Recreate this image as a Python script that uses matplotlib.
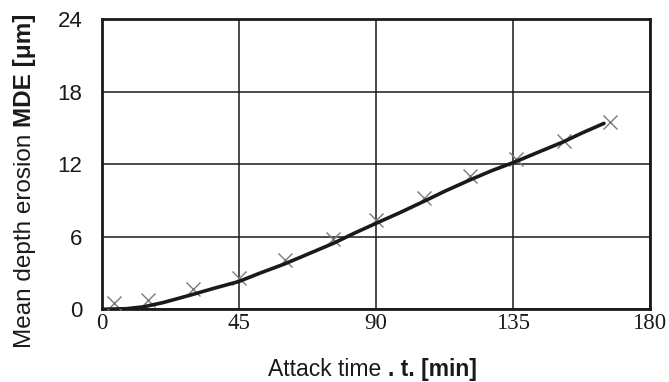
import matplotlib
matplotlib.use("Agg")
import matplotlib.pyplot as plt

# Measured erosion points
t_points = [4, 15, 30, 45, 60, 76, 90, 106, 121, 136, 152, 167]
mde_points = [0.5, 0.8, 1.7, 2.6, 4.1, 5.8, 7.4, 9.2, 11.0, 12.4, 13.9, 15.45]

# Fitted erosion curve
t_curve = [0, 8, 13.5, 20, 29.4, 37, 45, 52, 60, 68, 76, 83, 90, 98, 105.6, 113, 121, 128, 135.9, 144, 151.7, 158, 165]
mde_curve = [0.0, 0.05, 0.2, 0.55, 1.2, 1.75, 2.3, 3.0, 3.75, 4.6, 5.45, 6.3, 7.1, 8.0, 8.9, 9.8, 10.7, 11.45, 12.2, 13.05, 13.85, 14.6, 15.37]

x_ticks = [0, 45, 90, 135, 180]
y_ticks = [0, 6, 12, 18, 24]

ink = "#1a1a1a"

fig = plt.figure(figsize=(6.69, 3.82), dpi=100)
ax = fig.add_axes([0.1525, 0.1903, 0.971 - 0.1525, 0.9503 - 0.1903])

ax.set_xlim(0, 180)
ax.set_ylim(0, 24)
ax.set_xticks(x_ticks)
ax.set_yticks(y_ticks)
ax.grid(True, color=ink, linewidth=1.1)
ax.set_axisbelow(True)
for s in ax.spines.values():
    s.set_linewidth(2.0)
    s.set_color(ink)

ax.tick_params(axis="both", length=0)
ax.tick_params(axis="x", pad=2.5)
ax.tick_params(axis="y", pad=14)
for lab in ax.get_xticklabels():
    lab.set_fontfamily("Liberation Serif")
    lab.set_fontsize(16.5)
    lab.set_color(ink)
for lab in ax.get_yticklabels():
    lab.set_fontfamily("Liberation Sans")
    lab.set_fontsize(16)
    lab.set_color(ink)

ax.plot(t_points, mde_points, linestyle="none", marker="x", markersize=10,
        markeredgewidth=1.0, color="#7a7a7a", zorder=3, clip_on=False)
ax.plot(t_curve, mde_curve, color=ink, linewidth=2.6, zorder=4,
        solid_capstyle="round")

fig.canvas.draw()
renderer = fig.canvas.get_renderer()
W, H = fig.bbox.width, fig.bbox.height

# x-axis title: normal part followed by bold part
t1 = fig.text(268 / W, 1 - 376 / H, "Attack time ", fontsize=16.5,
              family="Liberation Sans", color=ink, ha="left", va="baseline")
bb = t1.get_window_extent(renderer)
fig.text(bb.x1 / W, 1 - 376 / H, ". t. [min]", fontsize=16.5,
         family="Liberation Sans", fontweight="bold", color=ink,
         ha="left", va="baseline")

# y-axis title: rotated, normal part then bold part
y1 = fig.text(31 / W, 1 - 348 / H, "Mean depth erosion ", fontsize=17.5,
              family="Liberation Sans", color=ink, rotation=90,
              ha="left", va="baseline", rotation_mode="anchor")
bb2 = y1.get_window_extent(renderer)
fig.text(31 / W, bb2.y1 / H, "MDE [\u03bcm]", fontsize=17.5,
         family="Liberation Sans", fontweight="bold", color=ink,
         rotation=90, ha="left", va="baseline", rotation_mode="anchor")

fig.savefig("out.png", dpi=100)
